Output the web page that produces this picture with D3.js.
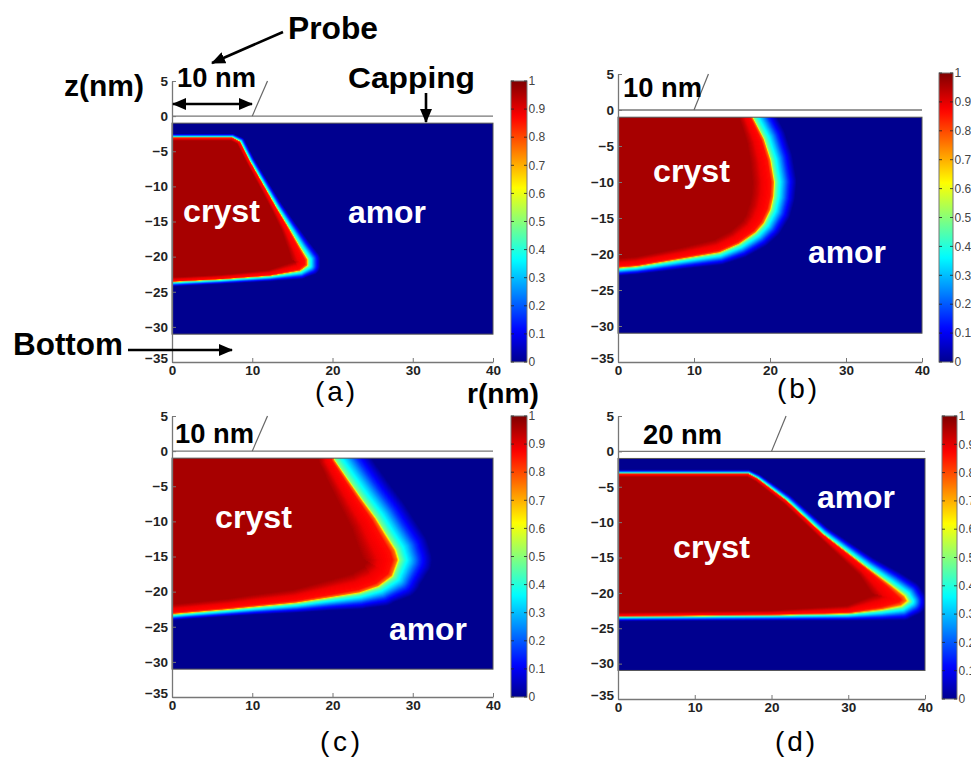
<!DOCTYPE html>
<html>
<head>
<meta charset="utf-8">
<script src="https://cdn.jsdelivr.net/npm/d3@7"></script>
<style>
  body { margin: 0; background: #fff; }
  svg { display: block; font-family: "Liberation Sans", Arial, sans-serif; }
</style>
</head>
<body>
<svg id="fig" width="971" height="758"></svg>
<script>
// ---- data ----
const rTicks = [0, 10, 20, 30, 40];
const zTicks = [5, 0, -5, -10, -15, -20, -25, -30, -35];
const cbTicks = [0, 0.1, 0.2, 0.3, 0.4, 0.5, 0.6, 0.7, 0.8, 0.9, 1];
const sampleZ = [-31, -1];          // simulated layer (nm)
const cappingZ = 0;

// value across the crystal edge, u = signed distance / local width (neg = inside)
const profileU = [-1, -0.8, -0.6, -0.2, -0.08, 0, 0.15, 0.35, 0.6, 1];
const profileV = [0.96, 0.93, 0.89, 0.86, 0.76, 0.5, 0.4, 0.3, 0.16, 0];

// 0.5 contour of the crystal, [r, z, inner width, outer width] (nm)
const edgeA = [
  [-1, -3.0, 0.5, 0.5], [7.5, -3.0, 0.5, 0.5], [8.5, -3.6, 0.5, 0.6],
  [9.7, -6.3, 0.5, 0.6], [11.6, -10.1, 0.6, 0.7], [13.0, -12.9, 0.7, 0.8],
  [14.5, -15.7, 1.0, 1.0], [16.0, -18.6, 1.6, 1.3], [17.0, -20.4, 2.2, 1.5],
  [17.0, -21.3, 2.2, 1.5], [16.0, -22.1, 1.6, 1.1], [12.2, -22.8, 0.9, 0.7],
  [6, -23.3, 0.7, 0.6], [-1, -23.7, 0.7, 0.6]
];
const edgeB = [
  [17.6, 0.5, 1.8, 2.8], [17.8, -1, 1.8, 2.8], [19.3, -4, 2.4, 2.8],
  [20.2, -6.9, 2.8, 2.8], [20.7, -10, 3.0, 2.8], [20.6, -12, 3.0, 2.7],
  [20.2, -13.9, 3.0, 2.6], [19.3, -15.8, 2.8, 2.4], [18.2, -17.1, 2.5, 2.2],
  [16.0, -18.7, 2.2, 1.9], [13.4, -19.9, 2.0, 1.6], [8.2, -20.8, 1.6, 1.3],
  [2.5, -21.8, 1.4, 1.0], [-1, -22.1, 1.4, 1.0]
];
const edgeC = [
  [20.1, 0.5, 2.0, 4.0], [20.3, -1.2, 2.0, 4.0], [22.0, -4, 2.5, 4.0],
  [23.8, -6.9, 3.0, 4.0], [25.5, -9.5, 3.5, 4.0], [26.7, -11.7, 4.0, 4.0],
  [28.0, -14.0, 4.5, 4.0], [28.4, -15.5, 4.5, 4.0], [27.6, -17.9, 4.0, 3.5],
  [25.8, -19.4, 3.5, 2.8], [23.4, -20.3, 3.0, 2.2], [19.5, -21.0, 2.5, 1.7],
  [15.5, -21.7, 2.0, 1.3], [10, -22.3, 1.8, 1.0], [7.2, -22.6, 1.6, 0.9],
  [2, -23.1, 1.5, 0.8], [-1, -23.4, 1.5, 0.8]
];
const edgeD = [
  [-1, -3.1, 0.5, 0.5], [17.0, -3.1, 0.5, 0.5], [18.2, -3.8, 0.5, 0.6],
  [22.0, -6.9, 0.6, 0.8], [26.7, -11.6, 0.7, 1.0], [32.4, -16.3, 1.5, 1.5],
  [35.5, -18.7, 3.0, 2.0], [37.5, -20.3, 4.5, 2.2], [38.0, -21.2, 5.0, 2.2],
  [37.0, -22.0, 4.0, 1.9], [34.4, -22.5, 2.5, 1.4], [30, -23.0, 1.2, 0.9],
  [20, -23.2, 0.7, 0.7], [-1, -23.4, 0.6, 0.6]
];
const edges = [edgeA, edgeB, edgeC, edgeD];
const panelNames = ["(a)", "(b)", "(c)", "(d)"];
const probeR = [10, 10, 10, 20];
const probeNames = ["10 nm", "10 nm", "10 nm", "20 nm"];

// ---- layout ----
const panels = [
  { x: [172, 493], y: [81, 362], cb: [511, 527, 81, 362], name: [315, 401], probe: [177, 87],
    cryst: [183, 222], amor: [348, 223] },
  { x: [618, 922], y: [74, 362], cb: [939, 953, 73, 362], name: [777, 398], probe: [623, 97],
    cryst: [653, 182], amor: [808, 263] },
  { x: [172, 493], y: [416, 697], cb: [511, 527, 416, 697], name: [320, 751], probe: [175, 443],
    cryst: [215, 528], amor: [389, 640] },
  { x: [618, 925], y: [416, 699], cb: [942, 957, 416, 699], name: [775, 751], probe: [643, 444],
    cryst: [673, 558], amor: [817, 508] }
];

const jet = d3.scaleLinear()
  .domain([0, 0.111, 0.365, 0.619, 0.873, 1])
  .range(["#00008f", "#0000ff", "#00ffff", "#ffff00", "#ff0000", "#800000"])
  .clamp(true);
const lut = d3.range(256).map(i => d3.rgb(jet(i / 255)));
const profile = d3.scaleLinear().domain(profileU).range(profileV).clamp(true);

const svg = d3.select("#fig");
const defs = svg.append("defs");
defs.append("marker")
  .attr("id", "head").attr("markerUnits", "userSpaceOnUse")
  .attr("viewBox", "0 0 14 12").attr("markerWidth", 14).attr("markerHeight", 12)
  .attr("refX", 13).attr("refY", 6).attr("orient", "auto-start-reverse")
  .append("path").attr("d", "M0,0L14,6L0,12Z").attr("fill", "#000");

const grad = defs.append("linearGradient").attr("id", "jetgrad")
  .attr("x1", 0).attr("y1", 1).attr("x2", 0).attr("y2", 0);
d3.range(0, 1.0001, 0.02).forEach(t =>
  grad.append("stop").attr("offset", t).attr("stop-color", jet(t)));

function fieldValue(pts, poly, r, z) {
  let best = Infinity, wi = 1, wo = 1;
  for (let k = 0; k < pts.length - 1; k++) {
    const a = pts[k], b = pts[k + 1];
    const dx = b[0] - a[0], dz = b[1] - a[1];
    let t = ((r - a[0]) * dx + (z - a[1]) * dz) / (dx * dx + dz * dz);
    t = Math.max(0, Math.min(1, t));
    const d = Math.hypot(r - a[0] - t * dx, z - a[1] - t * dz);
    if (d < best) {
      best = d;
      wi = a[2] + t * (b[2] - a[2]);
      wo = a[3] + t * (b[3] - a[3]);
    }
  }
  const inside = d3.polygonContains(poly, [r, z]);
  return profile(inside ? -best / wi : best / wo);
}

panels.forEach((p, i) => {
  const x = d3.scaleLinear().domain([0, 40]).range(p.x);
  const y = d3.scaleLinear().domain([5, -35]).range(p.y);
  const g = svg.append("g");

  // heat map of crystalline fraction
  const pts = edges[i];
  const poly = pts.map(d => [d[0], d[1]]).concat([[-1, pts[0][1]]]);
  const px0 = x(0), py0 = y(sampleZ[1]);
  const W = Math.round(x(40) - px0), H = Math.round(y(sampleZ[0]) - py0);
  const canvas = document.createElement("canvas");
  canvas.width = W; canvas.height = H;
  const ctx = canvas.getContext("2d");
  const img = ctx.createImageData(W, H);
  for (let j = 0; j < H; j++) {
    const z = y.invert(py0 + j + 0.5);
    for (let k = 0; k < W; k++) {
      const r = x.invert(px0 + k + 0.5);
      const c = lut[Math.round(fieldValue(pts, poly, r, z) * 255)];
      const o = (j * W + k) * 4;
      img.data[o] = c.r; img.data[o + 1] = c.g; img.data[o + 2] = c.b; img.data[o + 3] = 255;
    }
  }
  ctx.putImageData(img, 0, 0);
  g.append("image").attr("x", px0).attr("y", py0).attr("width", W).attr("height", H)
    .attr("preserveAspectRatio", "none").attr("href", canvas.toDataURL());
  g.append("rect").attr("x", px0).attr("y", py0).attr("width", W).attr("height", H)
    .attr("fill", "none").attr("stroke", "#555").attr("stroke-width", 1);

  // capping surface and probe edge
  g.append("line").attr("x1", x(0)).attr("x2", x(40)).attr("y1", y(cappingZ)).attr("y2", y(cappingZ))
    .attr("stroke", "#777").attr("stroke-width", 1.3);
  g.append("line").attr("x1", x(probeR[i])).attr("y1", y(0))
    .attr("x2", x(probeR[i] + 1.9)).attr("y2", y(5))
    .attr("stroke", "#666").attr("stroke-width", 1.2);

  // axes
  const axL = g.append("g").attr("transform", `translate(${x(0)},0)`)
    .call(d3.axisLeft(y).tickValues(zTicks).tickSizeInner(-4).tickSizeOuter(0).tickPadding(4));
  const axB = g.append("g").attr("transform", `translate(0,${y(-35)})`)
    .call(d3.axisBottom(x).tickValues(rTicks).tickSizeInner(-4).tickSizeOuter(0).tickPadding(3));
  [axL, axB].forEach(ax => {
    ax.select(".domain").attr("stroke", "#777").attr("stroke-width", 1.3);
    ax.selectAll(".tick line").attr("stroke", "#777");
    ax.selectAll("text").attr("font-size", 13.5).attr("font-weight", "bold")
      .attr("fill", "#222").attr("font-family", "Liberation Sans, Arial, sans-serif");
  });
  axL.selectAll(".tick text").filter(d => d === -35).attr("dy", "0.05em");

  // colour bar
  const [c0, c1, ct, cb] = p.cb;
  const cy = d3.scaleLinear().domain([0, 1]).range([cb, ct]);
  const cbar = svg.append("g");
  cbar.append("rect").attr("x", c0).attr("y", ct).attr("width", c1 - c0).attr("height", cb - ct)
    .attr("fill", "url(#jetgrad)").attr("stroke", "#777").attr("stroke-width", 1);
  cbTicks.forEach(t => {
    cbar.append("line").attr("x1", c0).attr("x2", c0 + 3).attr("y1", cy(t)).attr("y2", cy(t))
      .attr("stroke", "#222").attr("stroke-width", 0.8);
    cbar.append("line").attr("x1", c1 - 3).attr("x2", c1).attr("y1", cy(t)).attr("y2", cy(t))
      .attr("stroke", "#222").attr("stroke-width", 0.8);
    cbar.append("text").attr("x", c1 + 1.5).attr("y", cy(t)).attr("dy", "0.35em")
      .attr("font-size", 12).attr("fill", "#444").text(t === 0 || t === 1 ? t : t.toFixed(1));
  });

  // labels
  g.append("text").attr("x", p.probe[0]).attr("y", p.probe[1])
    .attr("font-size", 27).attr("font-weight", "bold").attr("textLength", 79)
    .attr("lengthAdjust", "spacingAndGlyphs").text(probeNames[i]);
  g.append("text").attr("x", p.cryst[0]).attr("y", p.cryst[1]).attr("fill", "#fff")
    .attr("font-size", 32).attr("font-weight", "bold").attr("textLength", 77)
    .attr("lengthAdjust", "spacingAndGlyphs").text("cryst");
  g.append("text").attr("x", p.amor[0]).attr("y", p.amor[1]).attr("fill", "#fff")
    .attr("font-size", 32).attr("font-weight", "bold").attr("textLength", 78)
    .attr("lengthAdjust", "spacingAndGlyphs").text("amor");
  g.append("text").attr("x", p.name[0]).attr("y", p.name[1])
    .attr("font-size", 28).attr("textLength", 40).attr("lengthAdjust", "spacing")
    .text(panelNames[i]);
});

// figure annotations
function bold(txt, xx, yy, size, len) {
  svg.append("text").attr("x", xx).attr("y", yy).attr("font-size", size)
    .attr("font-weight", "bold").attr("textLength", len)
    .attr("lengthAdjust", "spacingAndGlyphs").text(txt);
}
bold("Probe", 288, 39, 31, 90);
bold("Capping", 348, 88, 30, 127);
bold("Bottom", 13, 355, 31, 110);
bold("z(nm)", 64, 96, 29, 80);
bold("r(nm)", 467, 403, 28, 72);

function arrow(x1, y1, x2, y2, both) {
  const l = svg.append("line").attr("x1", x1).attr("y1", y1).attr("x2", x2).attr("y2", y2)
    .attr("stroke", "#000").attr("stroke-width", 2.6).attr("marker-end", "url(#head)");
  if (both) l.attr("marker-start", "url(#head)");
}
arrow(283, 32, 212, 63);
arrow(426, 93, 426, 122);
arrow(128, 350, 232, 350);
arrow(173, 104, 252, 104, true);
</script>
</body>
</html>
